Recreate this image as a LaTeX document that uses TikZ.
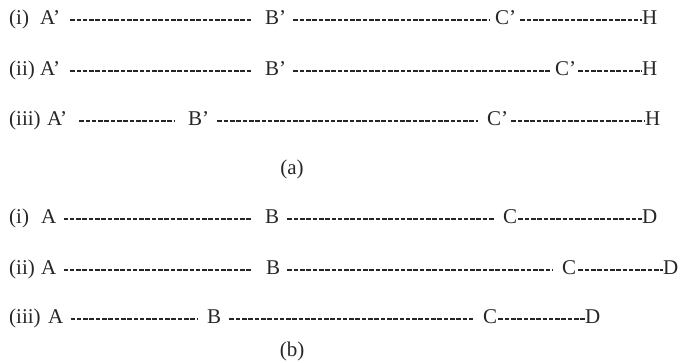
\documentclass[tikz,border=0pt]{standalone}
\usepackage{fontspec}
\setmainfont{Liberation Serif}
\usepackage{xcolor}
\usepackage{tikz}
\usetikzlibrary{positioning}
\definecolor{ink}{gray}{0.15}
\tikzset{
  lbl/.style={inner sep=0pt, anchor=west, text height=9.4pt, text depth=0pt,
    text=ink, font=\fontsize{21}{25}\selectfont},
  subcap/.style={inner sep=0pt, anchor=base, text=ink, font=\fontsize{21}{25}\selectfont},
  dline/.style={draw=ink, line width=1.2pt, dash pattern=on 4.6pt off 1.7pt},
}

\begin{document}
\begin{tikzpicture}[x=1pt, y=-1pt]
\useasboundingbox (0,0) rectangle (682,363);
% ---- (a): primed points ----
\node[lbl] (ri1) at (9,20) {(i)};
\node[lbl] (Ap1) at (40,20) {A’};
\node[lbl] (Bp1) at (265,20) {B’};
\node[lbl] (Cp1) at (495,20) {C’};
\node[lbl] (H1)  at (642,20) {H};
\node[lbl] (ri2) at (9,71) {(ii)};
\node[lbl] (Ap2) at (40,71) {A’};
\node[lbl] (Bp2) at (265,71) {B’};
\node[lbl] (Cp2) at (555,71) {C’};
\node[lbl] (H2)  at (642,71) {H};
\node[lbl] (ri3) at (9,121) {(iii)};
\node[lbl] (Ap3) at (47,121) {A’};
\node[lbl] (Bp3) at (188,121) {B’};
\node[lbl] (Cp3) at (487,121) {C’};
\node[lbl] (H3)  at (645,121) {H};
\node[subcap] (capa) at (292,175) {(a)};
% ---- (b): unprimed points ----
\node[lbl] (ri4) at (9,219) {(i)};
\node[lbl] (A4)  at (41,219) {A};
\node[lbl] (B4)  at (265,219) {B};
\node[lbl] (C4)  at (503,219) {C};
\node[lbl] (D4)  at (642,219) {D};
\node[lbl] (ri5) at (9,270) {(ii)};
\node[lbl] (A5)  at (41,270) {A};
\node[lbl] (B5)  at (266,270) {B};
\node[lbl] (C5)  at (562,270) {C};
\node[lbl] (D5)  at (663,270) {D};
\node[lbl] (ri6) at (9,319) {(iii)};
\node[lbl] (A6)  at (48,319) {A};
\node[lbl] (B6)  at (207,319) {B};
\node[lbl] (C6)  at (483,319) {C};
\node[lbl] (D6)  at (585,319) {D};
\node[subcap] (capb) at (292,356) {(b)};
% ---- dashed segments ----
\draw[dline, shorten <=10pt, shorten >=13pt] (Ap1.east) -- (Bp1.west);
\draw[dline, shorten <=7pt, shorten >=5pt] (Bp1.east) -- (Cp1.west);
\draw[dline, shorten <=4pt] (Cp1.east) -- (H1.west);
\draw[dline, shorten <=10pt, shorten >=13pt] (Ap2.east) -- (Bp2.west);
\draw[dline, shorten <=7pt, shorten >=5pt] (Bp2.east) -- (Cp2.west);
\draw[dline, shorten <=2pt] (Cp2.east) -- (H2.west);
\draw[dline, shorten <=12pt, shorten >=13pt] (Ap3.east) -- (Bp3.west);
\draw[dline, shorten <=8pt, shorten >=9pt] (Bp3.east) -- (Cp3.west);
\draw[dline, shorten <=3pt] (Cp3.east) -- (H3.west);
\draw[dline, shorten <=7pt, shorten >=13pt] (A4.east) -- (B4.west);
\draw[dline, shorten <=8pt, shorten >=8pt] (B4.east) -- (C4.west);
\draw[dline, shorten <=1pt] (C4.east) -- (D4.west);
\draw[dline, shorten <=7pt, shorten >=14pt] (A5.east) -- (B5.west);
\draw[dline, shorten <=7pt, shorten >=9pt] (B5.east) -- (C5.west);
\draw[dline, shorten <=2pt] (C5.east) -- (D5.west);
\draw[dline, shorten <=7pt, shorten >=9pt] (A6.east) -- (B6.west);
\draw[dline, shorten <=8pt, shorten >=8pt] (B6.east) -- (C6.west);
\draw[dline, shorten <=1pt] (C6.east) -- (D6.west);
\end{tikzpicture}
\end{document}
